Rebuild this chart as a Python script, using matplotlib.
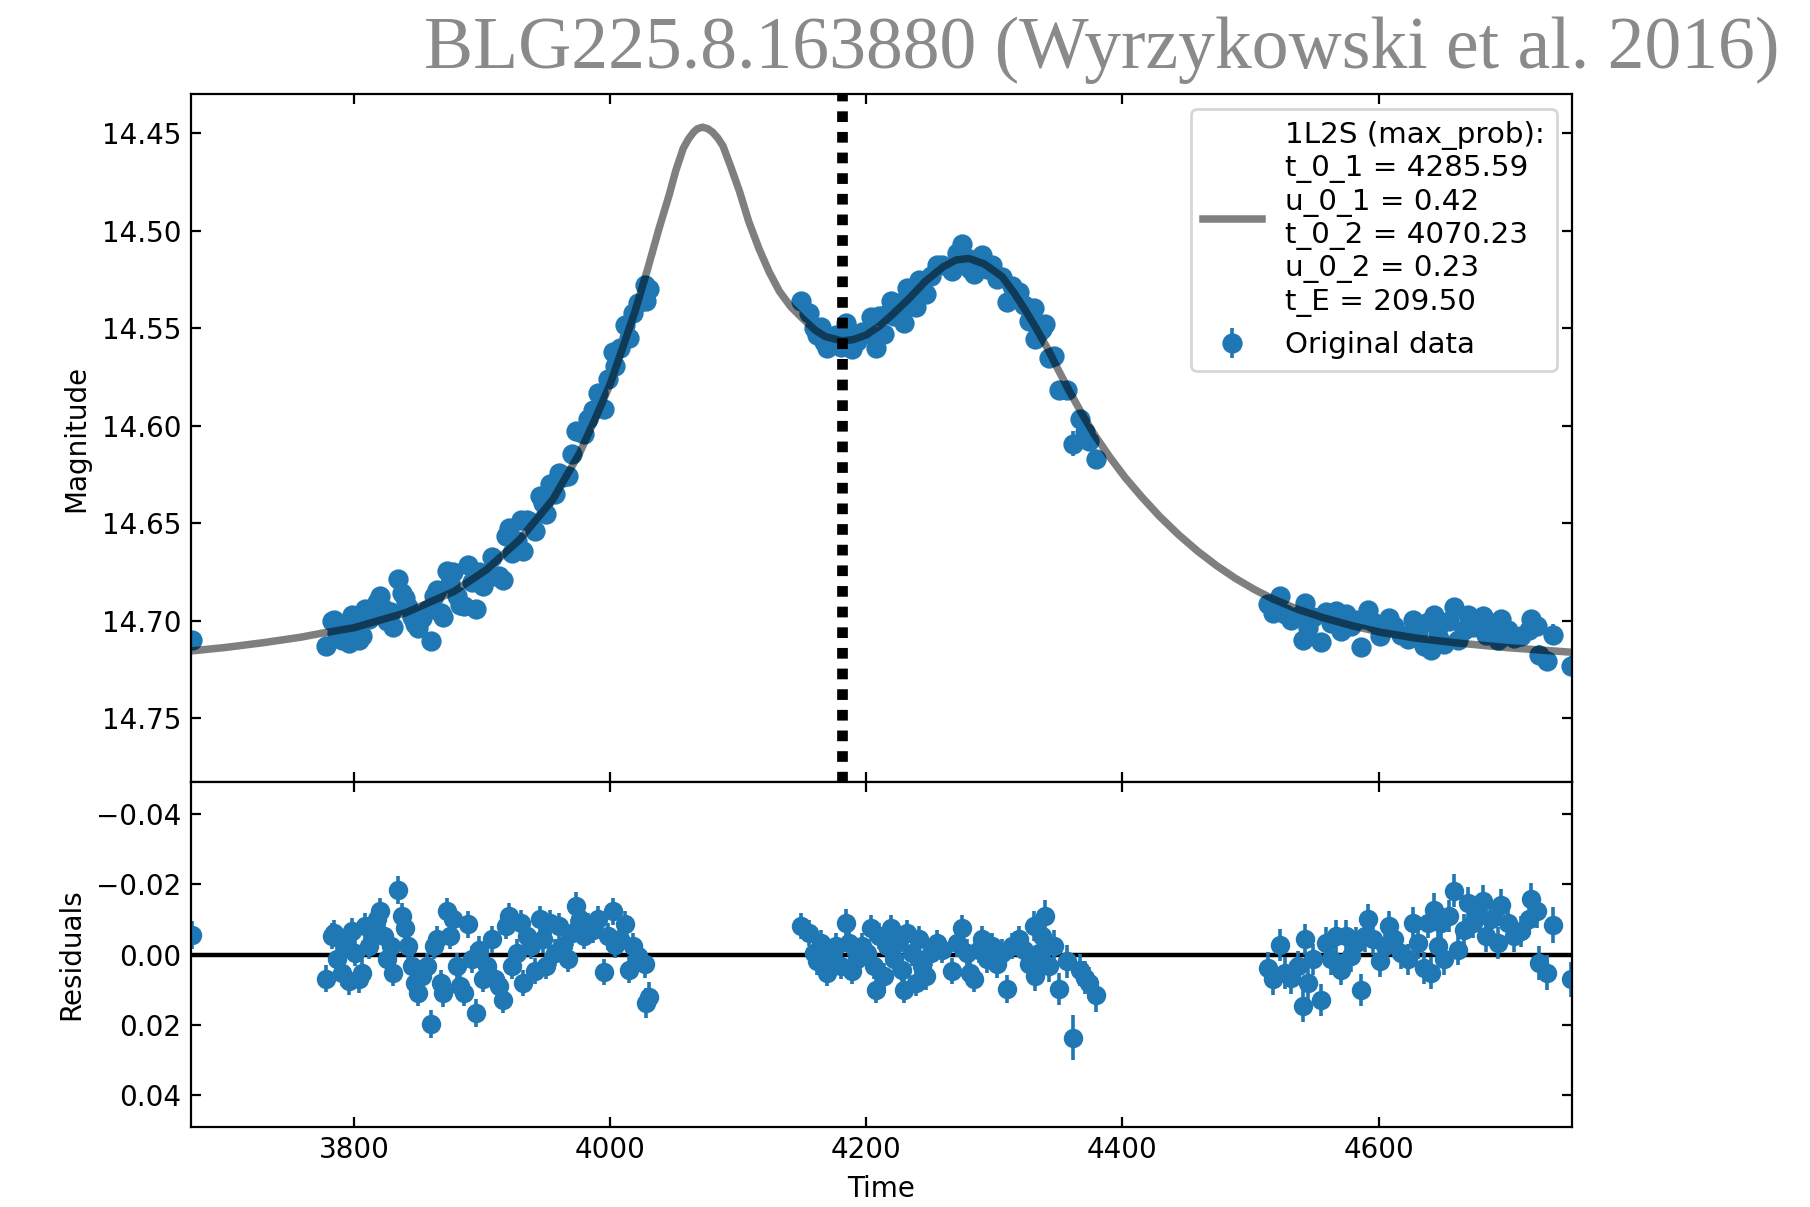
import numpy as np
import matplotlib
matplotlib.use("Agg")
import matplotlib.pyplot as plt
from matplotlib.ticker import MultipleLocator, FormatStrFormatter

# ---------------- data ----------------
title_text = "BLG225.8.163880 (Wyrzykowski et al. 2016)"
model_label = ("1L2S (max_prob):\nt_0_1 = 4285.59\nu_0_1 = 0.42\n"
               "t_0_2 = 4070.23\nu_0_2 = 0.23\nt_E = 209.50")
data_label = "Original data"
vline_time = 4181.3

model_t = [3673, 3700, 3730, 3758, 3775, 3800, 3840, 3878, 3903, 3929, 3955, 3976,
           3989, 4000, 4010, 4019, 4029, 4038, 4046, 4051, 4057, 4061, 4065, 4068,
           4072, 4076, 4080, 4084, 4088, 4094, 4101, 4108, 4116, 4124, 4132, 4141,
           4150, 4160, 4168, 4181, 4190, 4200, 4210, 4220, 4233, 4246, 4260, 4270,
           4280, 4292, 4306, 4315, 4324, 4333, 4342, 4350, 4358, 4368, 4378, 4390,
           4402, 4415, 4429, 4444, 4459, 4474, 4488, 4503, 4518, 4537, 4557, 4580,
           4602, 4630, 4661, 4700, 4751]
model_mag = [14.7155, 14.7137, 14.7112, 14.7085, 14.7064, 14.7036, 14.6960, 14.6850,
             14.6740, 14.6586, 14.6380, 14.6141, 14.5953, 14.5785, 14.5594, 14.5420,
             14.5200, 14.4990, 14.4816, 14.4695, 14.4577, 14.4530, 14.4495, 14.4477,
             14.4469, 14.4476, 14.4495, 14.4525, 14.4565, 14.4670, 14.4800, 14.4950,
             14.5090, 14.5210, 14.5310, 14.5390, 14.5449, 14.5510, 14.5543, 14.5565,
             14.5558, 14.5534, 14.5490, 14.5432, 14.5350, 14.5260, 14.5185, 14.5150,
             14.5142, 14.5170, 14.5235, 14.5315, 14.5406, 14.5505, 14.5610, 14.5715,
             14.5816, 14.5935, 14.6045, 14.6160, 14.6265, 14.6365, 14.6465, 14.6560,
             14.6645, 14.6720, 14.6782, 14.6840, 14.6890, 14.6942, 14.6985, 14.7027,
             14.7060, 14.7090, 14.7114, 14.7138, 14.7162]

# season 1
t1 = [3673.0,
      3778.2, 3782.6, 3784.4, 3786.5, 3790.4, 3793.0, 3795.6, 3798.2, 3800.8, 3803.4,
      3806.0, 3808.6, 3811.2, 3814.5, 3817.7, 3820.3, 3822.9, 3825.5, 3828.6, 3830.6,
      3834.5, 3837.1, 3839.7, 3842.3, 3844.9, 3847.5, 3850.1, 3852.7, 3856.6, 3859.7,
      3862.3, 3864.9, 3867.5, 3869.6, 3872.2, 3874.8, 3877.4, 3880.5, 3882.6, 3885.7,
      3889.1, 3891.7, 3894.8, 3897.4, 3900.8, 3903.9, 3907.3, 3909.9, 3913.2, 3916.4,
      3918.4, 3921.0, 3923.6, 3926.8, 3930.6, 3931.9, 3935.1, 3937.7, 3941.0, 3944.9,
      3947.5, 3950.1, 3953.2, 3956.6, 3960.0, 3963.1, 3967.0, 3970.4, 3973.5, 3976.1,
      3979.2, 3982.6, 3986.5, 3990.4, 3994.8, 3998.2, 4002.1, 4003.4, 4007.3, 4011.2,
      4014.5, 4017.7, 4021.6, 4026.8, 4028.0, 4030.1]
mag1 = [14.7100,
        14.7129, 14.7003, 14.6994, 14.7065, 14.7099, 14.7019, 14.7116, 14.6972, 14.7029, 14.7101,
        14.7077, 14.6939, 14.6991, 14.6956, 14.6902, 14.6874, 14.6940, 14.7001, 14.6958, 14.7030,
        14.6785, 14.6856, 14.6885, 14.6929, 14.6979, 14.7019, 14.7040, 14.6985, 14.6945, 14.7102,
        14.6871, 14.6845, 14.6961, 14.6983, 14.6743, 14.6806, 14.6750, 14.6873, 14.6920, 14.6924,
        14.6713, 14.6802, 14.6941, 14.6750, 14.6820, 14.6765, 14.6671, 14.6771, 14.6770, 14.6789,
        14.6568, 14.6525, 14.6651, 14.6593, 14.6483, 14.6644, 14.6486, 14.6493, 14.6538, 14.6360,
        14.6397, 14.6452, 14.6299, 14.6351, 14.6242, 14.6264, 14.6258, 14.6143, 14.6028, 14.6033,
        14.6041, 14.5965, 14.5919, 14.5834, 14.5916, 14.5761, 14.5622, 14.5692, 14.5603, 14.5485,
        14.5550, 14.5421, 14.5370, 14.5278, 14.5362, 14.5299]
res1 = [-0.0055,
        0.0069, -0.0052, -0.0060, 0.0014, 0.0052, -0.0024, 0.0076, -0.0066, -0.0005, 0.0071,
        0.0052, -0.0081, -0.0024, -0.0052, -0.0100, -0.0123, -0.0052, 0.0014, -0.0024, 0.0052,
        -0.0185, -0.0109, -0.0076, -0.0024, 0.0033, 0.0081, 0.0109, 0.0062, 0.0033, 0.0199,
        -0.0024, -0.0043, 0.0081, 0.0109, -0.0123, -0.0052, -0.0100, 0.0033, 0.0090, 0.0109,
        -0.0086, 0.0014, 0.0166, -0.0014, 0.0071, 0.0033, -0.0043, 0.0071, 0.0090, 0.0128,
        -0.0081, -0.0109, 0.0033, -0.0005, -0.0090, 0.0081, -0.0052, -0.0024, 0.0047, -0.0100,
        -0.0043, 0.0033, -0.0090, -0.0005, -0.0081, -0.0024, 0.0014, -0.0062, -0.0138, -0.0100,
        -0.0052, -0.0081, -0.0071, -0.0100, 0.0050, -0.0052, -0.0123, -0.0028, -0.0043, -0.0086,
        0.0043, -0.0024, 0.0005, 0.0028, 0.0138, 0.0121]
err1 = [0.0040,
        0.0038, 0.0037, 0.0038, 0.0039, 0.0038, 0.0037, 0.0038, 0.0038, 0.0037, 0.0038,
        0.0039, 0.0038, 0.0037, 0.0038, 0.0038, 0.0039, 0.0037, 0.0038, 0.0038, 0.0037,
        0.0040, 0.0038, 0.0037, 0.0038, 0.0039, 0.0038, 0.0037, 0.0038, 0.0038, 0.0040,
        0.0038, 0.0037, 0.0038, 0.0039, 0.0038, 0.0037, 0.0038, 0.0038, 0.0037, 0.0038,
        0.0039, 0.0038, 0.0040, 0.0038, 0.0037, 0.0038, 0.0038, 0.0039, 0.0037, 0.0038,
        0.0038, 0.0037, 0.0038, 0.0039, 0.0038, 0.0037, 0.0038, 0.0038, 0.0037, 0.0038,
        0.0039, 0.0038, 0.0037, 0.0038, 0.0038, 0.0039, 0.0037, 0.0038, 0.0040, 0.0038,
        0.0037, 0.0038, 0.0039, 0.0038, 0.0037, 0.0038, 0.0038, 0.0039, 0.0037, 0.0038,
        0.0038, 0.0037, 0.0038, 0.0039, 0.0042, 0.0042]

# season 2
t2 = [4148.9, 4155.4, 4159.3, 4161.8, 4164.4, 4167.0, 4169.6, 4172.2, 4176.1, 4180.0,
      4183.9, 4186.5, 4189.1, 4193.0, 4196.9, 4200.8, 4203.4, 4206.0, 4207.3, 4209.9,
      4213.8, 4216.4, 4219.0, 4221.6, 4224.2, 4228.1, 4229.4, 4232.0, 4235.9, 4238.5,
      4241.1, 4243.7, 4246.3, 4250.2, 4255.4, 4259.2, 4267.0, 4271.0, 4274.8, 4278.7,
      4281.3, 4283.9, 4287.8, 4290.4, 4294.3, 4298.2, 4302.1, 4306.0, 4309.9, 4313.8,
      4319.0, 4322.9, 4326.8, 4330.7, 4332.0, 4334.6, 4337.2, 4339.8, 4342.4, 4346.3,
      4350.2, 4356.6, 4361.3, 4367.0, 4370.9, 4373.5, 4379.2]
mag2 = [14.5361, 14.5420, 14.5501, 14.5536, 14.5494, 14.5570, 14.5599, 14.5547, 14.5534, 14.5598,
        14.5472, 14.5527, 14.5606, 14.5565, 14.5517, 14.5526, 14.5443, 14.5541, 14.5602, 14.5438,
        14.5530, 14.5429, 14.5362, 14.5436, 14.5373, 14.5425, 14.5474, 14.5294, 14.5324, 14.5392,
        14.5251, 14.5311, 14.5324, 14.5234, 14.5177, 14.5175, 14.5208, 14.5116, 14.5070, 14.5138,
        14.5197, 14.5222, 14.5146, 14.5124, 14.5196, 14.5174, 14.5247, 14.5239, 14.5367, 14.5282,
        14.5313, 14.5382, 14.5464, 14.5397, 14.5556, 14.5520, 14.5504, 14.5478, 14.5653, 14.5645,
        14.5816, 14.5817, 14.6093, 14.5967, 14.6033, 14.6077, 14.6173]
res2 = [-0.0081, -0.0062, -0.0005, 0.0019, -0.0033, 0.0033, 0.0052, -0.0005, -0.0024, 0.0033,
        -0.0090, -0.0033, 0.0047, 0.0014, -0.0024, -0.0005, -0.0076, 0.0033, 0.0100, -0.0052,
        0.0062, -0.0024, -0.0076, 0.0014, -0.0033, 0.0043, 0.0100, -0.0062, -0.0005, 0.0081,
        -0.0043, 0.0033, 0.0062, -0.0005, -0.0033, -0.0014, 0.0047, -0.0033, -0.0076, -0.0005,
        0.0052, 0.0071, -0.0014, -0.0043, 0.0014, -0.0024, 0.0028, -0.0005, 0.0098, -0.0024,
        -0.0043, -0.0014, 0.0028, -0.0081, 0.0062, -0.0005, -0.0052, -0.0110, 0.0033, -0.0024,
        0.0098, 0.0019, 0.0237, 0.0043, 0.0066, 0.0081, 0.0116]
err2 = [0.0038, 0.0037, 0.0038, 0.0039, 0.0038, 0.0037, 0.0038, 0.0038, 0.0037, 0.0038,
        0.0039, 0.0038, 0.0037, 0.0038, 0.0038, 0.0039, 0.0037, 0.0038, 0.0038, 0.0037,
        0.0038, 0.0039, 0.0038, 0.0037, 0.0038, 0.0038, 0.0039, 0.0037, 0.0038, 0.0038,
        0.0037, 0.0038, 0.0039, 0.0038, 0.0037, 0.0038, 0.0038, 0.0039, 0.0037, 0.0038,
        0.0038, 0.0037, 0.0038, 0.0039, 0.0038, 0.0037, 0.0038, 0.0038, 0.0039, 0.0037,
        0.0038, 0.0040, 0.0041, 0.0042, 0.0041, 0.0043, 0.0044, 0.0045, 0.0044, 0.0045,
        0.0046, 0.0047, 0.0064, 0.0046, 0.0047, 0.0046, 0.0048]

# season 3
t3 = [4513.7, 4517.6, 4522.8, 4526.7, 4531.9, 4537.1, 4541.0, 4542.3, 4544.9, 4548.8,
      4555.3, 4559.2, 4563.1, 4567.0, 4570.9, 4574.8, 4578.7, 4582.6, 4586.0, 4589.1,
      4591.7, 4595.6, 4600.8, 4604.7, 4608.5, 4612.4, 4617.6, 4622.8, 4626.7, 4630.6,
      4635.8, 4638.4, 4641.0, 4643.6, 4646.2, 4648.8, 4651.4, 4655.3, 4659.2, 4661.8,
      4667.0, 4669.6, 4673.5, 4677.4, 4681.3, 4683.9, 4687.8, 4693.0, 4695.6, 4700.8,
      4706.0, 4711.2, 4717.7, 4719.0, 4724.1, 4725.0, 4731.9, 4736.6, 4750.1]
mag3 = [14.6914, 14.6960, 14.6875, 14.6966, 14.6994, 14.6975, 14.7098, 14.6910, 14.7040, 14.6981,
        14.7111, 14.6956, 14.7010, 14.6951, 14.7053, 14.6965, 14.7029, 14.6998, 14.7136, 14.6989,
        14.6945, 14.7007, 14.7077, 14.7039, 14.6986, 14.7028, 14.7072, 14.7096, 14.6996, 14.7057,
        14.7132, 14.7006, 14.7150, 14.6972, 14.7078, 14.7014, 14.7120, 14.7000, 14.6931, 14.7100,
        14.7047, 14.6972, 14.7032, 14.7005, 14.6974, 14.7076, 14.7030, 14.7101, 14.6993, 14.7048,
        14.7089, 14.7077, 14.7046, 14.6990, 14.7026, 14.7174, 14.7205, 14.7071, 14.7233]
res3 = [0.0038, 0.0071, -0.0028, 0.0052, 0.0066, 0.0033, 0.0147, -0.0043, 0.0081, 0.0014,
        0.0130, -0.0033, 0.0014, -0.0052, 0.0043, -0.0052, 0.0005, -0.0033, 0.0100, -0.0052,
        -0.0100, -0.0043, 0.0019, -0.0024, -0.0081, -0.0043, -0.0005, 0.0014, -0.0090, -0.0033,
        0.0038, -0.0090, 0.0052, -0.0128, -0.0024, -0.0090, 0.0014, -0.0109, -0.0182, -0.0014,
        -0.0071, -0.0147, -0.0090, -0.0119, -0.0152, -0.0052, -0.0100, -0.0033, -0.0142, -0.0090,
        -0.0052, -0.0066, -0.0100, -0.0157, -0.0123, 0.0024, 0.0052, -0.0084, 0.0071]
err3 = [0.0045, 0.0044, 0.0045, 0.0046, 0.0045, 0.0044, 0.0045, 0.0045, 0.0046, 0.0044,
        0.0045, 0.0045, 0.0044, 0.0046, 0.0045, 0.0045, 0.0044, 0.0045, 0.0046, 0.0045,
        0.0044, 0.0045, 0.0045, 0.0046, 0.0044, 0.0045, 0.0045, 0.0044, 0.0046, 0.0045,
        0.0045, 0.0044, 0.0045, 0.0046, 0.0045, 0.0044, 0.0045, 0.0045, 0.0046, 0.0044,
        0.0045, 0.0045, 0.0044, 0.0046, 0.0045, 0.0045, 0.0044, 0.0045, 0.0046, 0.0045,
        0.0044, 0.0045, 0.0045, 0.0046, 0.0047, 0.0048, 0.0050, 0.0052, 0.0050]

# ---------------- figure ----------------
t_all = np.concatenate([t1, t2, t3])
mag_all = np.concatenate([mag1, mag2, mag3])
res_all = np.concatenate([res1, res2, res3])
err_all = np.concatenate([err1, err2, err3])

fig = plt.figure(figsize=(9.05, 6.035), dpi=200)
gs = fig.add_gridspec(2, 1, height_ratios=[2, 1], hspace=0,
                      left=0.1055, right=0.8683, top=0.9219, bottom=0.0666)
ax = fig.add_subplot(gs[0])
axr = fig.add_subplot(gs[1], sharex=ax)

ax.errorbar(t_all, mag_all, yerr=err_all, fmt='o', color='C0', ms=6.3,
            elinewidth=1.3, capsize=0, label=data_label, zorder=2)
ax.plot(model_t, model_mag, color='black', alpha=0.5, lw=2.7,
        label=model_label, zorder=3)
ax.axvline(vline_time, color='black', lw=3.85, linestyle=(0, (1, 0.93)), zorder=4)

ax.set_xlim(3672.5, 4750.8)
ax.set_ylim(14.783, 14.430)
ax.yaxis.set_major_locator(MultipleLocator(0.05))
ax.yaxis.set_major_formatter(FormatStrFormatter('%.2f'))
ax.set_ylabel("Magnitude")
ax.tick_params(axis='both', direction='in', top=True, right=True)
ax.tick_params(axis='x', labelbottom=False)
ax.legend(loc='upper right', fontsize=10.6)

axr.axhline(0, color='black', lw=1.6, zorder=1)
axr.errorbar(t_all, res_all, yerr=err_all, fmt='o', color='C0', ms=6.0,
             elinewidth=1.3, capsize=0, zorder=2)
axr.set_ylim(0.049, -0.049)
axr.yaxis.set_major_locator(MultipleLocator(0.02))
axr.xaxis.set_major_locator(MultipleLocator(200))
axr.set_ylabel("Residuals")
axr.set_xlabel("Time")
axr.tick_params(axis='both', direction='in', top=True, right=True)

fig.text(0.9834, 0.9437, title_text, ha='right', va='baseline',
         family='Liberation Serif', fontsize=26.5, color='#8a8a8a')

fig.savefig("out.png", dpi=200)
